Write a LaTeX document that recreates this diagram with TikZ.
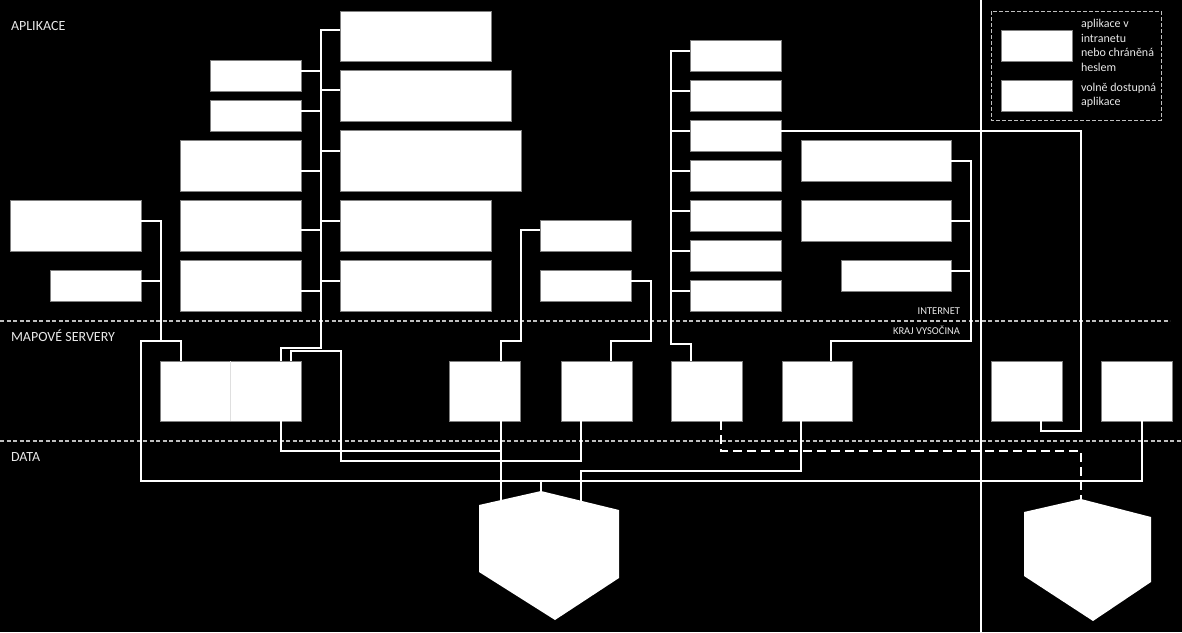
\documentclass[tikz,border=0pt]{standalone}
\usepackage{fontspec}
\setmainfont{Carlito}
\usetikzlibrary{calc}
\definecolor{boxgray}{HTML}{808080}
\definecolor{sepgray}{HTML}{BFBFBF}
\definecolor{txt}{HTML}{E8E8E8}
\tikzset{
  appbox/.style={draw=boxgray, fill=white, line width=0.8pt, inner sep=0pt, outer sep=0pt, anchor=north west},
  wire/.style={draw=white, line width=1.7pt},
  dwire/.style={draw=white, line width=1.7pt, dash pattern=on 9pt off 5pt},
  sepline/.style={draw=sepgray, line width=1.3pt, dash pattern=on 4pt off 2.5pt},
  lbl/.style={text=txt, inner sep=0pt, outer sep=0pt, font=\fontsize{14}{16}\selectfont},
  smalllbl/.style={text=txt, inner sep=0pt, outer sep=0pt, font=\fontsize{10.5}{12}\selectfont},
  legtxt/.style={text=txt, inner sep=0pt, outer sep=0pt, anchor=base west, font=\fontsize{12}{14.7}\selectfont},
  hexshape/.style={fill=white, draw=none}
}
\begin{document}
\begin{tikzpicture}[x=1pt, y=-1pt]
\fill[black] (0,0) rectangle (1182,632);
\useasboundingbox (0,0) rectangle (1182,632);

% section separators
\draw[sepline] (0,321) -- (1170,321);
\draw[sepline] (0,441) -- (1182,441);
% vertical divider
\draw[white, line width=1.3pt] (981,0) -- (981,632);

% labels
\node[lbl, anchor=base west] (tapl) at (11,30.7) {APLIKACE};
\node[lbl, anchor=base west] (tmap) at (11,341) {MAPOVÉ SERVERY};
\node[lbl, anchor=base west] (tdat) at (11,461) {DATA};
\node[smalllbl, anchor=base east] (tint) at (960,314) {INTERNET};
\node[smalllbl, anchor=base east] (tkraj) at (960,334) {KRAJ VYSOČINA};

% application boxes
\node[appbox, minimum width=91pt, minimum height=31pt] (A1) at (210,60) {};
\node[appbox, minimum width=91pt, minimum height=31pt] (A2) at (210,100) {};
\node[appbox, minimum width=121pt, minimum height=51pt] (A3) at (180,140) {};
\node[appbox, minimum width=121pt, minimum height=51pt] (A4) at (180,200) {};
\node[appbox, minimum width=121pt, minimum height=51pt] (A5) at (180,260) {};
\node[appbox, minimum width=131pt, minimum height=51pt] (L1) at (10,200) {};
\node[appbox, minimum width=91pt, minimum height=31pt] (L2) at (50,270) {};
\node[appbox, minimum width=151pt, minimum height=50pt] (B1) at (340,11) {};
\node[appbox, minimum width=171pt, minimum height=51pt] (B2) at (340,70) {};
\node[appbox, minimum width=181pt, minimum height=61pt] (B3) at (340,130) {};
\node[appbox, minimum width=151pt, minimum height=51pt] (B4) at (340,200) {};
\node[appbox, minimum width=151pt, minimum height=51pt] (B5) at (340,260) {};
\node[appbox, minimum width=91pt, minimum height=31pt] (C1) at (540,220) {};
\node[appbox, minimum width=91pt, minimum height=31pt] (C2) at (540,270) {};
\foreach \k in {1,...,7} {
  \node[appbox, minimum width=91pt, minimum height=31pt] (D\k) at (690,{40*\k}) {};
}
\node[appbox, minimum width=150pt, minimum height=41pt] (E1) at (801,140) {};
\node[appbox, minimum width=150pt, minimum height=41pt] (E2) at (801,200) {};
\node[appbox, minimum width=110pt, minimum height=31pt] (E3) at (841,260) {};

% map servers
\node[appbox, minimum width=70pt, minimum height=60pt] (S1) at (160,361) {};
\node[appbox, minimum width=71pt, minimum height=60pt] (S2) at (230,361) {};
\node[appbox, minimum width=71pt, minimum height=60pt] (S3) at (449,361) {};
\node[appbox, minimum width=71pt, minimum height=60pt] (S4) at (561,361) {};
\node[appbox, minimum width=71pt, minimum height=60pt] (S5) at (671,361) {};
\node[appbox, minimum width=70pt, minimum height=60pt] (S6) at (782,361) {};
\node[appbox, minimum width=71pt, minimum height=60pt] (S7) at (991,361) {};
\node[appbox, minimum width=71pt, minimum height=60pt] (S8) at (1101,361) {};
% faint joint between S1 and S2
\draw[gray!25, line width=0.6pt] (S2.north west) -- (S2.south west);

% data stores
\fill[hexshape] (541,491) -- (619,510) -- (619,578) -- (555,620) -- (479,572) -- (479,505) -- cycle;
\fill[hexshape] (1081,499) -- (1151,517) -- (1151,582) -- (1093,621) -- (1024,576) -- (1024,512) -- cycle;
\coordinate (h1top) at (541,491);
\coordinate (h1l) at (501,500);
\coordinate (h1r) at (581,501);
\coordinate (h2top) at (1081,499);

% legend
\draw[sepgray, line width=1pt, dash pattern=on 4pt off 2pt] (991,11) rectangle (1161,120);
\node[appbox, minimum width=71pt, minimum height=31pt] (LG1) at (1001,30) {};
\node[appbox, minimum width=71pt, minimum height=31pt] (LG2) at (1001,80) {};
\node[legtxt] (lg1a) at (1081,27.5) {aplikace v};
\node[legtxt] (lg1b) at (1081,42.2) {intranetu};
\node[legtxt] (lg1c) at (1081,56.9) {nebo chráněná};
\node[legtxt] (lg1d) at (1081,71.6) {heslem};
\node[legtxt] (lg2a) at (1081,91) {volně dostupná};
\node[legtxt] (lg2b) at (1081,105.7) {aplikace};

% bus coordinates
\coordinate (busA) at (321,0);
\coordinate (busL) at (161,0);
\coordinate (busD) at (671,0);
\coordinate (busE) at (971,0);

% bus A (B boxes left, A boxes right)
\draw[wire] ($(B1.north west)+(0,19)$) -| (321,348) -| ($(S2.north west)+(51,0)$);
\foreach \n/\d in {B2/20,B3/21,B4/21,B5/21} {
  \draw[wire] ($(\n.north west)+(0,\d)$) coordinate (t) -- (t -| busA);
}
\foreach \n/\d in {A1/11,A2/11,A3/31,A4/30,A5/31} {
  \draw[wire] ($(\n.north east)+(0,\d)$) coordinate (t) -- (t -| busA);
}

% bus L
\draw[wire] ($(L1.north east)+(0,21)$) -| (161,341);
\draw[wire] ($(L2.north east)+(0,11)$) coordinate (t) -- (t -| busL);

% big loop S1 -> S8
\draw[wire] ($(S1.north west)+(21,0)$) |- (141,341) -- (141,481) -| ($(S8.south west)+(41,0)$);
\draw[wire] (h1top) -- (h1top |- 0,481);

% S2 top -> S4 bottom
\draw[wire] ($(S2.north west)+(61,0)$) |- (341,351) -- (341,461) -| ($(S4.south west)+(20,0)$);
% S2 bottom -> S3 line
\draw[wire] ($(S2.south west)+(51,0)$) |- (501,451);
% S3 bottom -> data 1
\draw[wire] ($(S3.south west)+(52,0)$) -- (h1l);

% C boxes
\draw[wire] ($(C1.north west)+(0,10)$) -| (521,341) -| ($(S3.north west)+(52,0)$);
\draw[wire] ($(C2.north east)+(0,11)$) -| (651,341) -| ($(S4.north west)+(50,0)$);

% bus D
\draw[wire] ($(D1.north west)+(0,11)$) -| (671,344) -| ($(S5.north west)+(20,0)$);
\foreach \k in {2,...,7} {
  \draw[wire] ($(D\k.north west)+(0,11)$) coordinate (t) -- (t -| busD);
}
\draw[wire] ($(D3.north east)+(0,11)$) -| (1081,431) -| ($(S7.south west)+(50,0)$);

% bus E
\draw[wire] ($(E1.north east)+(0,21)$) -| (971,341) -| ($(S6.north west)+(49,0)$);
\draw[wire] ($(E2.north east)+(0,21)$) coordinate (t) -- (t -| busE);
\draw[wire] ($(E3.north east)+(0,11)$) coordinate (t) -- (t -| busE);

% S6 bottom -> data 1
\draw[wire] ($(S6.south west)+(19,0)$) |- (581,471) -- (h1r);

% dashed S5 -> data 2
\draw[dwire] ($(S5.south west)+(50,0)$) |- (1081,451) -- (h2top);
\end{tikzpicture}
\end{document}
